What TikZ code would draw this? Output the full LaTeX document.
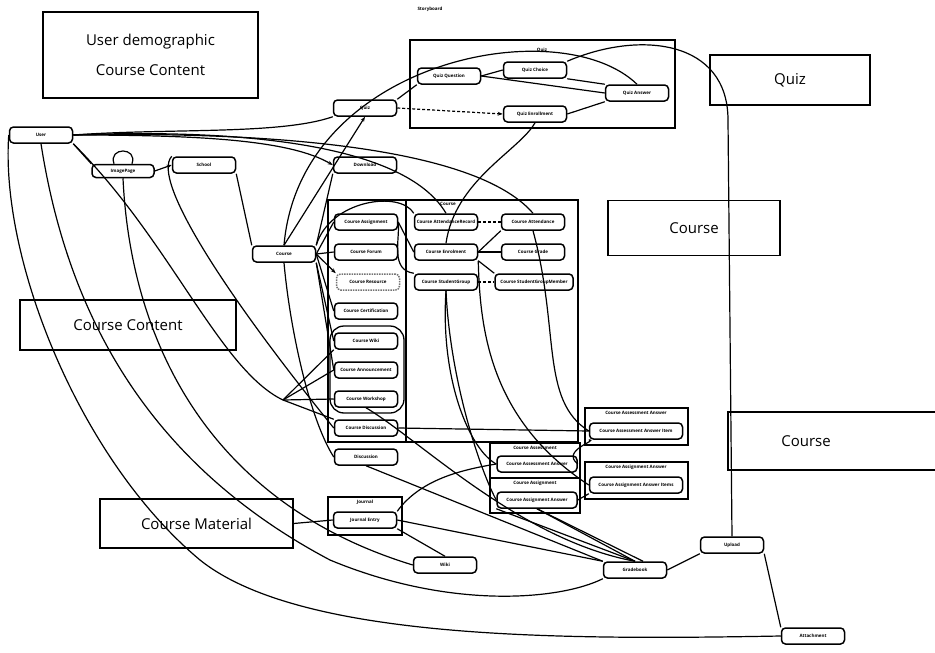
\documentclass[tikz,border=0pt]{standalone}
\usepackage{fontspec}
\setmainfont{Open Sans}
\usetikzlibrary{arrows.meta,positioning,calc}

\begin{document}
\begin{tikzpicture}[x=1pt, y=-1pt, line width=1.2pt, >={Stealth[length=1.8mm]},
  nd/.style={rectangle, rounded corners=4pt, draw, line width=1.5pt, minimum width=63pt,
             minimum height=16pt, inner sep=1pt, font=\fontsize{4.5}{5}\selectfont\bfseries},
  grp/.style={rectangle, draw, line width=1.3pt},
  gttl/.style={font=\fontsize{4.5}{5}\selectfont\bfseries, inner sep=0pt},
  lbl/.style={rectangle, draw, line width=1.3pt, font=\fontsize{15}{30}\selectfont, align=center, inner sep=0pt}]
  \useasboundingbox (0,0) rectangle (935,653);

  % label boxes
  \node[lbl, minimum width=215pt, minimum height=86pt] (demo) at (150.5,55) {User demographic\\Course Content};
  \node[lbl, minimum width=160pt, minimum height=50pt] (quizlbl) at (790,80) {Quiz};
  \node[lbl, minimum width=172pt, minimum height=55pt] (courselbl) at (694,228) {Course};
  \node[lbl, minimum width=216pt, minimum height=50pt] (contentlbl) at (128,325) {Course Content};
  \draw[line width=1.3pt] (935,412) -| (728,470) -- (935,470);
  \node[font=\fontsize{15}{18}\selectfont] (courselbl2) at (806,441) {Course};
  \node[lbl, minimum width=193pt, minimum height=49pt] (materiallbl) at (196.5,523.5) {Course Material};
  \node[gttl] (title) at (430,9) {Storyboard};

  % groups
  \draw[grp] (410,40) rectangle (675,128);
  \node[gttl] (quizttl) at (542,50) {Quiz};
  \draw[grp] (328,200) rectangle (578,442);
  \draw[line width=1.3pt] (406,200) -- (406,442);
  \node[gttl] (coursettl) at (448,204) {Course};
  \draw[line width=1.3pt, rounded corners=14pt] (330,326) rectangle (404,413);
  \draw[grp] (585,408) rectangle (688,445);
  \node[gttl] (caattl) at (636,413) {Course Assessment Answer};
  \draw[grp] (585,462) rectangle (688,499);
  \node[gttl] (cgattl) at (636,467) {Course Assignment Answer};
  \draw[grp] (490,443) rectangle (580,478);
  \node[gttl] (casttl) at (535,448) {Course Assessment};
  \draw[grp] (490,478) rectangle (580,513);
  \node[gttl] (cagttl) at (535,483) {Course Assignment};
  \draw[grp] (328,497) rectangle (402,535);
  \node[gttl] (jrnttl) at (365,502) {Journal};

  % nodes, left side
  \node[nd] (user) at (41,135) {User};
  \node[nd, minimum width=62pt, minimum height=13pt] (imgpage) at (123,171) {ImagePage};
  \node[nd] (school) at (204,165) {School};
  \node[nd] (course) at (284,254) {Course};
  \node[nd] (quiz) at (365,108) {Quiz};
  \node[nd] (download) at (365,165) {Download};

  % quiz group
  \node[nd] (quizq) at (449,76) {Quiz Question};
  \node[nd] (quizc) at (535,70) {Quiz Choice};
  \node[nd] (quiza) at (637,93) {Quiz Answer};
  \node[nd] (quize) at (535,114) {Quiz Enrollment};

  % course group
  \node[nd] (cassign) at (366,222) {Course Assignment};
  \node[nd] (cforum) at (366,252) {Course Forum};
  \node[nd, densely dotted, draw=black!55] (cresource) at (368,282) {Course Resource};
  \node[nd] (ccert) at (366,311) {Course Certification};
  \node[nd] (cwiki) at (366,341) {Course Wiki};
  \node[nd] (cannounce) at (366,370) {Course Announcement};
  \node[nd] (cworkshop) at (366,399) {Course Workshop};
  \node[nd] (cdiscuss) at (366,428) {Course Discussion};
  \node[nd] (discussion) at (366,457) {Discussion};
  \node[nd] (cattrec) at (446,222) {Course AttendanceRecord};
  \node[nd] (cenrol) at (446,252) {Course Enrolment};
  \node[nd] (cgroup) at (446,282) {Course StudentGroup};
  \node[nd] (cattend) at (533,222) {Course Attendance};
  \node[nd] (cgrade) at (533,252) {Course Grade};
  \node[nd, minimum width=78pt] (cgroupmem) at (534,282) {Course StudentGroupMember};

  % answer groups
  \node[nd, minimum width=93pt] (caaitem) at (636,431) {Course Assessment Answer Item};
  \node[nd, minimum width=93pt] (cgaitems) at (636,485) {Course Assignment Answer Items};
  \node[nd, minimum width=80pt] (cassessans) at (537,464) {Course Assessment Answer};
  \node[nd, minimum width=80pt] (cassignans) at (537,500) {Course Assignment Answer};
  \node[nd] (jentry) at (365,520) {Journal Entry};

  % bottom
  \node[nd] (wiki) at (445,565) {Wiki};
  \node[nd] (gradebook) at (635,570) {Gradebook};
  \node[nd] (upload) at (732,545) {Upload};
  \node[nd] (attach) at (813,636) {Attachment};

  \coordinate (fanB) at (283,400);

  % user links
  \draw (user.south east) -- (imgpage.north west);
  \draw (user.east) .. controls (170,128) and (280,135) .. (quiz.south west);
  \draw (user.east) .. controls (200,130) and (400,135) .. (cattrec.north);
  \draw (user.east) .. controls (230,132) and (470,140) .. (cattend.north);
  \draw[->] (user.east) .. controls (200,135) and (290,140) .. (download.west);
  \draw (user.south east) .. controls (170,240) and (220,370) .. (fanB);
  \draw (user.south) .. controls (70,330) and (160,470) .. (330,560) .. controls (450,610) and (560,600) .. (gradebook.south west);
  \draw (user.west) .. controls (0,260) and (80,460) .. (200,560) .. controls (300,640) and (560,640) .. (attach.west);

  % image page and school
  \draw ([xshift=-9pt]imgpage.north) .. controls +(-6,-17) and +(6,-17) .. ([xshift=9pt]imgpage.north);
  \draw[->] (imgpage.east) -- (school.west);
  \draw (imgpage.south) .. controls (130,330) and (200,500) .. (wiki.west);
  \draw (school.south east) -- (course.north west);
  \draw (school.north west) .. controls (150,180) and (230,300) .. (cdiscuss.west);

  % course hub
  \draw (course.north) .. controls (300,60) and (560,10) .. (quiza.north);
  \draw[->] (course.north) -- (quiz.south);
  \draw (course.north east) -- (download.south west);
  \draw (course.east) -- (cassign.west);
  \draw (course.east) -- (cforum.west);
  \draw[->] (course.east) -- (cresource.north west);
  \draw (course.east) -- (ccert.west);
  \draw (course.south east) -- (cwiki.west);
  \draw (course.south east) -- (cannounce.west);
  \draw (course.south) .. controls (290,330) and (310,420) .. (discussion.west);
  \draw (course.north east) .. controls (330,200) and (400,190) .. (cattrec.north west);

  % fan on the left of the course group
  \draw (fanB) -- (cwiki.south west);
  \draw (fanB) -- (cannounce.west);
  \draw (fanB) -- (cworkshop.west);
  \draw (fanB) -- (cdiscuss.north west);

  % quiz group
  \draw[densely dashed, ->] (quiz.east) -- (quize.west);
  \draw (quiz.north east) -- (quizq.south west);
  \draw (quizq.east) -- (quizc.west);
  \draw (quizq.east) -- (quiza.west);
  \draw (quizc.south east) -- (quiza.north west);
  \draw (quize.east) -- (quiza.south west);
  \draw (quizc.north east) .. controls (640,30) and (728,40) .. (728,120) -- (upload.north);

  % course group
  \draw[densely dashed] (cattrec.east) -- (cattend.west);
  \draw (cenrol.east) -- (cattend.south west);
  \draw (cenrol.east) -- (cgrade.west);
  \draw (cenrol.south east) -- (cgroupmem.north west);
  \draw[densely dashed] (cgroup.east) -- (cgroupmem.west);
  \draw (cenrol.north) .. controls (455,180) and (520,150) .. (quize.south);
  \draw (cassign.east) .. controls (400,240) and (390,270) .. (cgroup.north west);
  \draw (cassign.east) -- (cenrol.west);

  % down to the answer groups
  \draw (cgroup.south) .. controls (440,380) and (470,450) .. (cassessans.west);
  \draw (cgroup.south) .. controls (450,380) and (480,470) .. (cassignans.west);
  \draw (cenrol.south east) .. controls (480,330) and (490,420) .. (cgaitems.west);
  \draw (cattend.south) .. controls (560,330) and (540,400) .. (caaitem.west);
  \draw (cassessans.east) .. controls (560,450) and (600,440) .. (caaitem.south west);
  \draw (cassignans.east) -- (cgaitems.south west);
  \draw (cdiscuss.east) -- (caaitem.west);

  % journal and wiki
  \draw (jentry.south east) -- (wiki.north);
  \draw (jentry.east) -- (gradebook.north west);
  \draw (jentry.north east) .. controls (420,480) and (460,470) .. (cassessans.west);
  \draw (materiallbl.east) -- (jentry.west);
  \draw (discussion.south) -- (gradebook.north west);
  \draw (cworkshop.south) .. controls (420,440) and (520,540) .. (gradebook.north);

  % gradebook, upload, attachment
  \draw (cassignans.south) -- (gradebook.north);
  \draw (cassignans.south west) -- (gradebook.north);
  \draw (cassignans.south) -- ([xshift=8pt]gradebook.north);
  \draw (gradebook.east) -- (upload.south west);
  \draw (upload.south east) -- (attach.north west);
\end{tikzpicture}
\end{document}
